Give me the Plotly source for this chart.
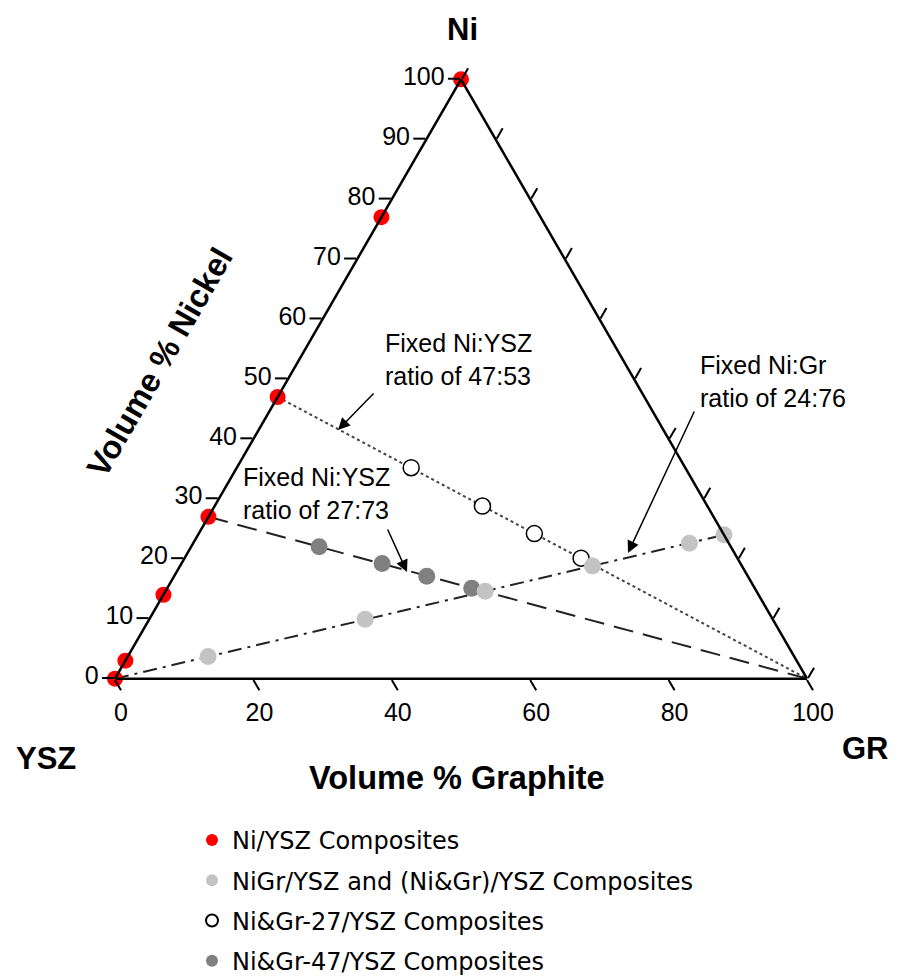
import plotly.graph_objects as go

# ---------------- data (volume %: Ni, YSZ, Graphite) ----------------
# Ni/YSZ composites (Ni-YSZ edge)
nysz_ni = [100, 77, 47, 27, 14, 3, 0]
nysz_ysz = [0, 23, 53, 73, 86, 97, 100]
nysz_gr = [0, 0, 0, 0, 0, 0, 0]

# NiGr/YSZ and (Ni&Gr)/YSZ composites (fixed Ni:Gr 24:76)
nigr_ni = [3.7, 9.9, 14.6, 18.8, 22.6, 24.0]
nigr_ysz = [84.7, 58.9, 39.2, 21.6, 5.7, 0.0]
nigr_gr = [11.6, 31.2, 46.2, 59.6, 71.7, 76.0]

# Ni&Gr-27/YSZ composites (open circles, fixed Ni:YSZ 47:53)
open_ni = [35.2, 28.8, 24.2, 20.1]
open_ysz = [39.6, 32.5, 27.3, 22.6]
open_gr = [25.2, 38.7, 48.5, 57.3]

# Ni&Gr-47/YSZ composites (dark grey, fixed Ni:YSZ 27:73)
dark_ni = [22.0, 19.2, 17.1, 15.1]
dark_ysz = [59.5, 51.8, 46.4, 40.9]
dark_gr = [18.5, 29.0, 36.5, 44.0]

# guide lines
l4753_ni, l4753_ysz, l4753_gr = [47, 0], [53, 0], [0, 100]
l2773_ni, l2773_ysz, l2773_gr = [27, 0], [73, 0], [0, 100]
l2476_ni, l2476_ysz, l2476_gr = [0, 24], [100, 0], [0, 76]

# ticks
ni_ticks = [0, 10, 20, 30, 40, 50, 60, 70, 80, 90, 100]
bottom_tickvals = [100, 80, 60, 40, 20, 0]          # YSZ values along bottom edge
bottom_ticktext = ["0", "20", "40", "60", "80", "100"]  # = Graphite %
gr_ticks = [0, 10, 20, 30, 40, 50, 60, 70, 80, 90, 100]

legend_names = ["Ni/YSZ Composites",
                "NiGr/YSZ and (Ni&Gr)/YSZ Composites",
                "Ni&Gr-27/YSZ Composites",
                "Ni&Gr-47/YSZ Composites"]

W, H = 899, 979
OFF = 8  # page body margin
ARIAL = "Liberation Sans, Arial, sans-serif"


def px(x):
    return (x - OFF) / W


def py(y):
    return 1 - (y - OFF) / H


fig = go.Figure()

# guide lines
fig.add_trace(go.Scatterternary(a=l4753_ni, b=l4753_ysz, c=l4753_gr, mode="lines",
                                line=dict(color="#444444", width=2, dash="dot"),
                                showlegend=False, hoverinfo="skip", cliponaxis=False))
fig.add_trace(go.Scatterternary(a=l2773_ni, b=l2773_ysz, c=l2773_gr, mode="lines",
                                line=dict(color="#222222", width=2, dash="20px,10px"),
                                showlegend=False, hoverinfo="skip", cliponaxis=False))
fig.add_trace(go.Scatterternary(a=l2476_ni, b=l2476_ysz, c=l2476_gr, mode="lines",
                                line=dict(color="#222222", width=2, dash="14px,6px,3px,6px"),
                                showlegend=False, hoverinfo="skip", cliponaxis=False))

# markers
fig.add_trace(go.Scatterternary(a=nysz_ni, b=nysz_ysz, c=nysz_gr, mode="markers",
                                name=legend_names[0], legendrank=1, legendgroup="g1",
                                marker=dict(color="#ff0000", size=16, line=dict(width=0)),
                                cliponaxis=False))
fig.add_trace(go.Scatterternary(a=open_ni, b=open_ysz, c=open_gr, mode="markers",
                                name=legend_names[2], legendrank=3, legendgroup="g3",
                                marker=dict(color="white", size=16,
                                            line=dict(color="black", width=1.5)),
                                cliponaxis=False))
fig.add_trace(go.Scatterternary(a=dark_ni, b=dark_ysz, c=dark_gr, mode="markers",
                                name=legend_names[3], legendrank=4, legendgroup="g4",
                                marker=dict(color="#808080", size=17, line=dict(width=0)),
                                cliponaxis=False))
fig.add_trace(go.Scatterternary(a=nigr_ni, b=nigr_ysz, c=nigr_gr, mode="markers",
                                name=legend_names[1], legendrank=2, legendgroup="g2",
                                marker=dict(color="#c3c3c3", size=17, line=dict(width=0)),
                                cliponaxis=False))

axis_common = dict(showgrid=False, linecolor="black", linewidth=2.5,
                   ticks="outside", ticklen=12, tickwidth=1.5, tickcolor="black",
                   tickfont=dict(family=ARIAL, size=25, color="black"),
                   title=dict(text=""), min=0)

fig.update_layout(
    width=W, height=H,
    margin=dict(l=0, r=0, t=0, b=0),
    paper_bgcolor="white",
    ternary=dict(
        sum=100,
        bgcolor="white",
        domain=dict(x=[px(115), px(807)], y=[py(679), py(79)]),
        aaxis=dict(axis_common, tickmode="array", tickvals=ni_ticks),
        baxis=dict(axis_common, tickmode="array", tickvals=bottom_tickvals,
                   ticktext=bottom_ticktext),
        caxis=dict(axis_common, tickmode="array", tickvals=gr_ticks,
                   showticklabels=False),
    ),
    legend=dict(x=px(192), y=py(818), xanchor="left", yanchor="top",
                font=dict(family="DejaVu Sans", size=24, color="black"),
                itemsizing="constant", bgcolor="rgba(0,0,0,0)",
                tracegroupgap=6),
    showlegend=True,
)

bold = dict(family=ARIAL, size=31, color="black")
big = dict(family=ARIAL, size=32.5, color="black")
txt = dict(family=ARIAL, size=25, color="black")

annotations = [
    dict(text="<b>Ni</b>", x=px(462), y=py(29), font=bold),
    dict(text="<b>YSZ</b>", x=px(46), y=py(758), font=bold),
    dict(text="<b>GR</b>", x=px(865), y=py(748), font=bold),
    dict(text="<b>Volume % Graphite</b>", x=px(457), y=py(778), font=big),
    dict(text="<b>Volume % Nickel</b>", x=px(160), y=py(362), font=big, textangle=-60),
    dict(text="Fixed Ni:YSZ<br>ratio of 47:53", x=px(383), y=py(359), font=txt,
         xanchor="left", align="left"),
    dict(text="Fixed Ni:YSZ<br>ratio of 27:73", x=px(241), y=py(494), font=txt,
         xanchor="left", align="left"),
    dict(text="Fixed Ni:Gr<br>ratio of 24:76", x=px(698), y=py(381), font=txt,
         xanchor="left", align="left"),
]
for a in annotations:
    a.setdefault("xanchor", "center")
    a["xref"] = "paper"
    a["yref"] = "paper"
    a["yanchor"] = "middle"
    a["showarrow"] = False
    fig.add_annotation(**a)

# arrows (head position, tail offset in pixels)
arrows = [((338, 430), (37, -38)),
          ((407, 572), (-20, -44)),
          ((628, 553), (67, -143))]
for (hx, hy), (ax, ay) in arrows:
    fig.add_annotation(x=px(hx), y=py(hy), xref="paper", yref="paper", text="",
                       showarrow=True, ax=ax, ay=ay, axref="pixel", ayref="pixel",
                       arrowhead=2, arrowsize=1.6, arrowwidth=1.5, arrowcolor="black",
                       standoff=0)

fig.write_html("out.html")
